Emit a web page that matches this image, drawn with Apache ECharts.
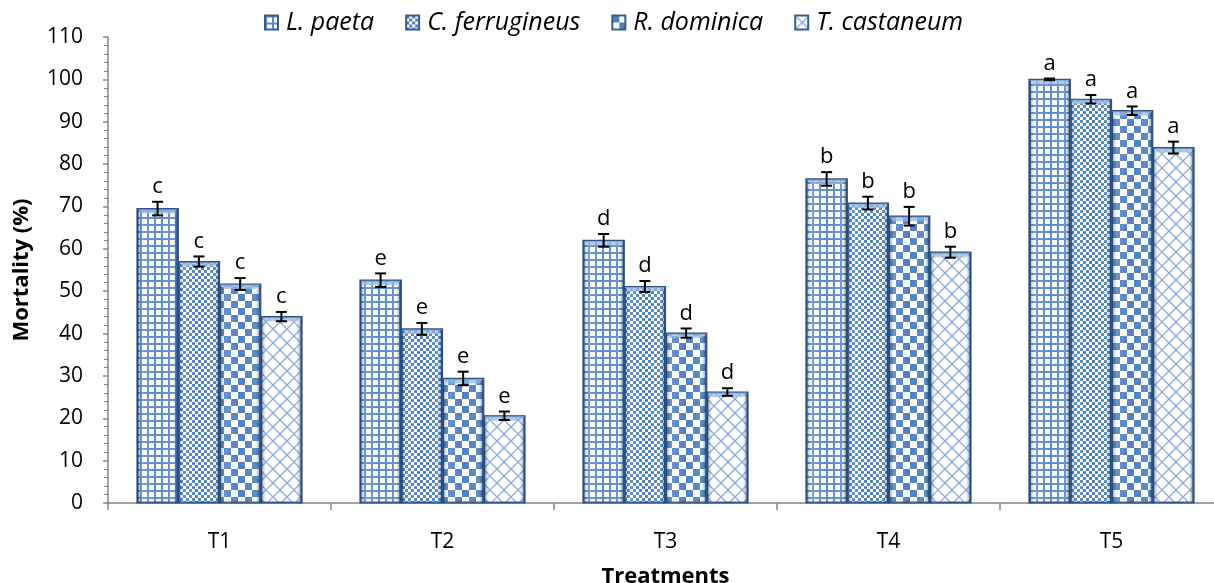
<!DOCTYPE html>
<html>
<head>
<meta charset="utf-8">
<script src="https://cdn.jsdelivr.net/npm/echarts@6/dist/echarts.min.js"></script>
<style>
html,body{margin:0;padding:0;background:#fff;}
#chart{width:1214px;height:583px;}
</style>
</head>
<body>
<div id="chart"></div>
<script>
// ---- data ----
const categories = ['T1', 'T2', 'T3', 'T4', 'T5'];
const speciesNames = ['L. paeta', 'C. ferrugineus', 'R. dominica', 'T. castaneum'];
const lPaeta = [69.5, 52.6, 62.0, 76.5, 100.0];
const cFerrugineus = [57.0, 41.1, 51.1, 70.8, 95.3];
const rDominica = [51.7, 29.4, 40.1, 67.7, 92.6];
const tCastaneum = [44.0, 20.6, 26.2, 59.2, 83.9];
const errLPaeta = [1.6, 1.6, 1.5, 1.6, 0.2];
const errCFerrugineus = [1.2, 1.4, 1.3, 1.5, 1.0];
const errRDominica = [1.4, 1.6, 1.1, 2.2, 1.0];
const errTCastaneum = [1.1, 1.0, 0.9, 1.3, 1.4];
const letters = ['c', 'e', 'd', 'b', 'a'];
const yTicks = [0, 10, 20, 30, 40, 50, 60, 70, 80, 90, 100, 110];

const values = [lPaeta, cFerrugineus, rDominica, tCastaneum];
const errors = [errLPaeta, errCFerrugineus, errRDominica, errTCastaneum];

// ---- patterns ----
const BLUE = '#4F81BD';
function tile(size, draw) {
  const c = document.createElement('canvas');
  c.width = size; c.height = size;
  const g = c.getContext('2d');
  g.fillStyle = '#ffffff';
  g.fillRect(0, 0, size, size);
  draw(g, size);
  return c;
}
const patGrid = tile(7, (g) => { g.fillStyle = '#5B8BC9'; g.fillRect(0, 0, 7, 2); g.fillRect(0, 0, 2, 7); });
const patSmallCheck = tile(6, (g) => { g.fillStyle = BLUE; g.fillRect(0, 0, 3, 3); g.fillRect(3, 3, 3, 3); });
const patBigCheck = tile(14, (g) => { g.fillStyle = BLUE; g.fillRect(0, 0, 7, 7); g.fillRect(7, 7, 7, 7); });
const patCross = tile(14, (g) => {
  g.strokeStyle = '#7FA6DB'; g.lineWidth = 1.3;
  g.beginPath(); g.moveTo(0, 0); g.lineTo(14, 14); g.moveTo(14, 0); g.lineTo(0, 14); g.stroke();
});
const patterns = [patGrid, patSmallCheck, patBigCheck, patCross];

const CAT_GAP = 0.26;
const FONT = '"Open Sans", "Noto Sans", sans-serif';

const series = [];
values.forEach((vals, s) => {
  series.push({
    name: speciesNames[s],
    type: 'bar',
    data: vals,
    barGap: '0%',
    barCategoryGap: (CAT_GAP * 100) + '%',
    itemStyle: {
      color: { image: patterns[s], repeat: 'repeat' },
      borderColor: '#385D8A',
      borderWidth: 1.5
    },
    emphasis: { disabled: true },
    z: 2
  });
});
values.forEach((vals, s) => {
  series.push({
    name: 'ov' + s,
    type: 'custom',
    z: 5,
    silent: true,
    data: vals.map((v, i) => [i, v, errors[s][i], letters[i]]),
    renderItem: function (params, api) {
      const idx = api.value(0);
      const val = api.value(1);
      const err = api.value(2);
      const top = api.coord([idx, val]);
      const base = api.coord([idx, 0]);
      const band = api.size([1, 0])[0];
      const group = band * (1 - CAT_GAP);
      const bw = group / 4;
      const x0 = top[0] - group / 2 + s * bw;
      const xc = x0 + bw / 2;
      const h = base[1] - top[1];
      const eTop = api.coord([idx, val + err])[1];
      const eBot = api.coord([idx, val - err])[1];
      const cap = 5.5;
      const children = [
        {
          type: 'rect',
          shape: { x: x0, y: top[1], width: bw, height: h },
          style: {
            fill: {
              type: 'linear', x: 0, y: 0, x2: 1, y2: 0,
              colorStops: [
                { offset: 0, color: 'rgba(20,45,85,0.55)' },
                { offset: 0.06, color: 'rgba(40,70,110,0.25)' },
                { offset: 0.14, color: 'rgba(255,255,255,0.15)' },
                { offset: 0.5, color: 'rgba(255,255,255,0.0)' },
                { offset: 0.86, color: 'rgba(255,255,255,0.1)' },
                { offset: 0.94, color: 'rgba(40,70,110,0.3)' },
                { offset: 1, color: 'rgba(20,45,85,0.6)' }
              ]
            }
          }
        },
        {
          type: 'polygon',
          shape: { points: [[x0, top[1]], [x0 + bw, top[1]], [x0 + bw - 5, top[1] + 5], [x0 + 5, top[1] + 5]] },
          style: { fill: 'rgba(150,185,225,0.75)' }
        },
        {
          type: 'rect',
          shape: { x: x0, y: top[1], width: bw, height: h },
          style: { fill: 'none', stroke: '#2F5283', lineWidth: 1.2 }
        },
        { type: 'line', shape: { x1: xc, y1: eTop, x2: xc, y2: eBot }, style: { stroke: '#000', lineWidth: 2 } },
        { type: 'line', shape: { x1: xc - cap, y1: eTop, x2: xc + cap, y2: eTop }, style: { stroke: '#000', lineWidth: 2 } },
        { type: 'line', shape: { x1: xc - cap, y1: eBot, x2: xc + cap, y2: eBot }, style: { stroke: '#000', lineWidth: 2 } },
        {
          type: 'text',
          style: {
            text: letters[idx], x: xc, y: eTop - 4,
            align: 'center', verticalAlign: 'bottom',
            font: '22px ' + FONT, fill: '#000'
          }
        }
      ];
      return { type: 'group', children: children };
    }
  });
});

const chart = echarts.init(document.getElementById('chart'), null, { renderer: 'canvas' });
chart.setOption({
  animation: false,
  backgroundColor: '#ffffff',
  textStyle: { fontFamily: FONT },
  legend: {
    data: speciesNames,
    top: 5,
    left: 259,
    itemWidth: 13,
    itemHeight: 14,
    itemGap: 31,
    icon: 'rect',
    textStyle: { fontSize: 25, fontStyle: 'italic', color: '#000', fontFamily: FONT, padding: [0, 0, 0, 3] }
  },
  grid: { left: 108, top: 37, bottom: 80, width: 1115, containLabel: false, outerBoundsMode: 'none' },
  xAxis: {
    type: 'category',
    data: categories,
    name: 'Treatments',
    nameLocation: 'middle',
    nameGap: 63,
    nameTextStyle: { fontSize: 22, fontWeight: 'bold', color: '#000' },
    axisLine: { lineStyle: { color: '#868686', width: 1.5 } },
    axisTick: { show: true, length: 7, lineStyle: { color: '#868686', width: 1.5 } },
    axisLabel: { fontSize: 21, color: '#000', margin: 29 }
  },
  yAxis: {
    type: 'value',
    min: yTicks[0],
    max: yTicks[yTicks.length - 1],
    interval: 10,
    name: 'Mortality (%)',
    nameLocation: 'middle',
    nameGap: 75,
    nameTextStyle: { fontSize: 22, fontWeight: 'bold', color: '#000' },
    axisLine: { show: true, lineStyle: { color: '#868686', width: 1.5 } },
    axisTick: { show: true, length: 5, lineStyle: { color: '#868686', width: 1.5 } },
    minorTick: { show: true, splitNumber: 5, length: 4, lineStyle: { color: '#868686', width: 1 } },
    splitLine: { show: false },
    axisLabel: { fontSize: 21, color: '#000', margin: 25 }
  },
  series: series
});
</script>
</body>
</html>
